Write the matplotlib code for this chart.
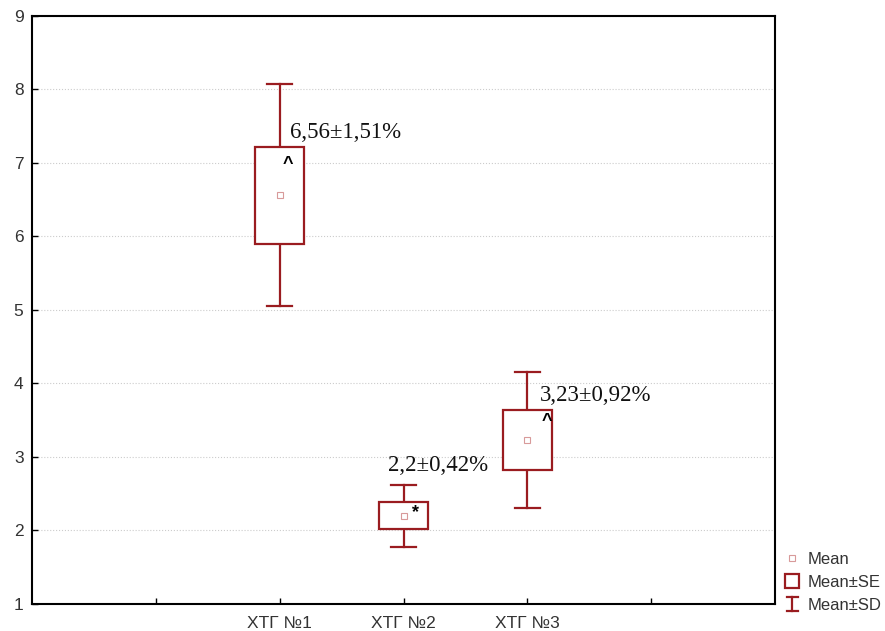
import matplotlib.pyplot as plt
import matplotlib.patches as mpatches
from matplotlib.lines import Line2D
from matplotlib.legend_handler import HandlerBase

# data
groups = ["ХТГ №1", "ХТГ №2", "ХТГ №3"]
means = [6.56, 2.20, 3.23]
se = [0.66, 0.185, 0.41]
sd = [1.51, 0.42, 0.92]
labels = ["6,56±1,51%", "2,2±0,42%", "3,23±0,92%"]
marks = ["^", "*", "^"]

dark = "#9a1c20"
light = "#d89a9a"

plt.rcParams['font.family'] = ['Liberation Sans', 'DejaVu Sans']

fig = plt.figure(figsize=(8.85, 6.31), dpi=100)
ax = fig.add_axes([0.036, 0.043, 0.840, 0.932])

pos = [2, 3, 4]
box_w = 0.4
cap_w = 0.2
for i, x in enumerate(pos):
    m, s, d = means[i], se[i], sd[i]
    # whiskers
    ax.plot([x, x], [m + s, m + d], color=dark, lw=1.6, zorder=3)
    ax.plot([x, x], [m - d, m - s], color=dark, lw=1.6, zorder=3)
    ax.plot([x - cap_w / 2, x + cap_w / 2], [m + d, m + d], color=dark, lw=1.6, zorder=3)
    ax.plot([x - cap_w / 2, x + cap_w / 2], [m - d, m - d], color=dark, lw=1.6, zorder=3)
    # box
    ax.add_patch(mpatches.Rectangle((x - box_w / 2, m - s), box_w, 2 * s,
                                    facecolor="white", edgecolor=dark, lw=1.6, zorder=3))
    # mean
    ax.plot([x], [m], marker="s", ms=5, mfc="white", mec=light, mew=0.8, zorder=4)

# annotations
txt_dx = [0.085, -0.125, 0.10]
txt_dy = [0.85, 0.68, 0.61]
mk_dx = [0.07, 0.10, 0.16]
mk_dy = [0.42, 0.04, 0.25]
for i, x in enumerate(pos):
    ax.text(x + txt_dx[i], means[i] + txt_dy[i], labels[i], fontsize=16.5,
            family="Liberation Serif", ha="left", va="center", color="#111111")
    ax.text(x + mk_dx[i], means[i] + mk_dy[i], marks[i], fontsize=13, ha="center",
            va="center", fontweight="bold")

ax.set_xlim(0, 6)
ax.set_ylim(1, 9)
ax.set_xticks([1, 2, 3, 4, 5])
ax.set_xticklabels([""] + groups + [""])
ax.set_yticks(range(1, 10))
ax.tick_params(direction="in", length=4, width=1, labelsize=12.5, pad=6,
               labelcolor="#333333")
ax.tick_params(axis="x", pad=9)
ax.yaxis.grid(True, linestyle=":", color="#cccccc", lw=0.8)
ax.set_axisbelow(True)
for sp in ax.spines.values():
    sp.set_linewidth(1.5)


class HandlerSD(HandlerBase):
    def create_artists(self, legend, orig_handle, xd, yd, width, height, fontsize, trans):
        cx = xd + width / 2
        w = height * 1.0
        top = yd + height * 1.15
        bot = yd - height * 0.1
        l1 = Line2D([cx, cx], [bot, top], color=dark, lw=1.6, transform=trans)
        l2 = Line2D([cx - w / 2, cx + w / 2], [top, top], color=dark, lw=1.6, transform=trans)
        l3 = Line2D([cx - w / 2, cx + w / 2], [bot, bot], color=dark, lw=1.6, transform=trans)
        return [l1, l2, l3]


class HandlerBox(HandlerBase):
    def create_artists(self, legend, orig_handle, xd, yd, width, height, fontsize, trans):
        cx = xd + width / 2
        s = height * 1.2
        r = mpatches.Rectangle((cx - s / 2, yd - 0.1 * height), s, s, facecolor="white",
                               edgecolor=dark, lw=1.6, transform=trans)
        return [r]


class HandlerMean(HandlerBase):
    def create_artists(self, legend, orig_handle, xd, yd, width, height, fontsize, trans):
        cx = xd + width / 2
        l = Line2D([cx], [yd + height / 2], marker="s", ms=5, mfc="white", mec=light,
                   mew=0.8, transform=trans)
        return [l]


class MeanKey:
    pass


leg = fig.legend([MeanKey(), mpatches.Patch(), Line2D([], [])],
                 ["Mean", "Mean±SE", "Mean±SD"],
                 handler_map={MeanKey: HandlerMean(), mpatches.Patch: HandlerBox(),
                              Line2D: HandlerSD()},
                 loc="lower left", bbox_to_anchor=(0.886, 0.028), frameon=False,
                 fontsize=12, handlelength=1.0, handletextpad=0.4, labelspacing=0.5,
                 borderaxespad=0, borderpad=0.0)
for t in leg.get_texts():
    t.set_color("#333333")

fig.savefig("out.png", dpi=100)
